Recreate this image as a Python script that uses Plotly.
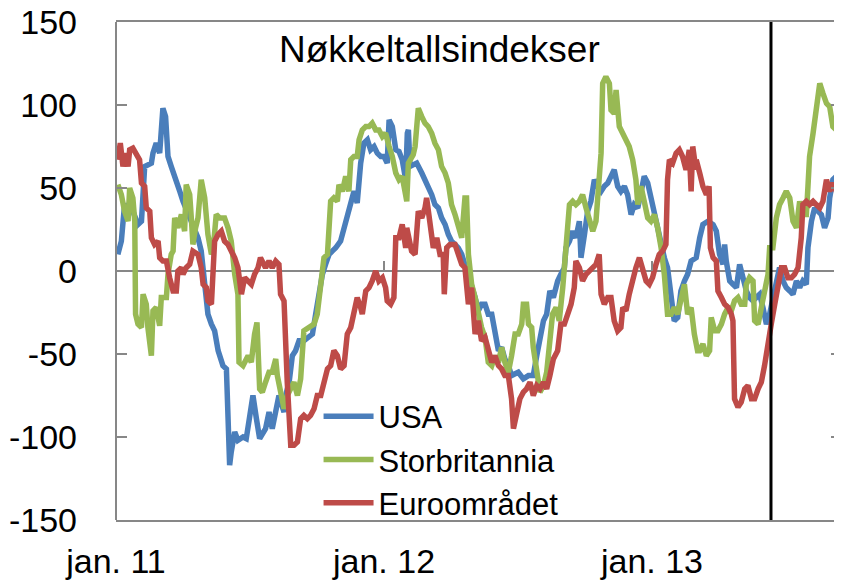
import plotly.graph_objects as go

# Years since jan. 2011 (decimal), index value
usa = [
    (0.007, 10), (0.020, 18), (0.032, 40), (0.063, 36), (0.082, 28), (0.095, 30), (0.107, 63),
    (0.132, 65), (0.138, 71), (0.150, 77), (0.163, 71), (0.175, 98), (0.185, 93), (0.194, 69),
    (0.206, 63), (0.225, 55), (0.238, 48), (0.250, 42), (0.269, 34), (0.287, 28), (0.306, 20),
    (0.318, 12), (0.331, -6), (0.343, -26), (0.356, -32), (0.368, -36), (0.381, -48), (0.399, -57),
    (0.412, -59), (0.418, -91), (0.424, -117), (0.430, -109), (0.443, -97), (0.455, -102),
    (0.474, -100), (0.486, -101), (0.499, -87), (0.511, -75), (0.524, -89), (0.536, -101),
    (0.558, -95), (0.571, -85), (0.583, -95), (0.596, -83), (0.608, -75), (0.627, -85),
    (0.633, -75), (0.646, -67), (0.658, -51), (0.670, -48), (0.683, -42), (0.701, -42),
    (0.720, -40), (0.733, -38), (0.745, -26), (0.757, -14), (0.770, -2), (0.782, 4), (0.795, 10),
    (0.807, 12), (0.820, 14), (0.838, 18), (0.851, 26), (0.863, 34), (0.876, 40), (0.888, 48),
    (0.900, 41), (0.913, 65), (0.925, 77), (0.938, 79), (0.950, 73), (0.963, 75), (0.975, 71),
    (0.988, 69), (1.000, 69), (1.012, 65), (1.019, 91), (1.031, 87), (1.044, 73), (1.056, 72),
    (1.068, 67), (1.081, 55), (1.087, 83), (1.091, 85), (1.097, 63), (1.122, 65), (1.141, 59),
    (1.153, 55), (1.165, 51), (1.178, 46), (1.190, 40), (1.203, 38), (1.215, 32), (1.228, 28),
    (1.240, 22), (1.252, 18), (1.265, 16), (1.277, 14), (1.290, 10), (1.302, 4), (1.315, -4),
    (1.327, -10), (1.340, -16), (1.352, -24), (1.364, -20), (1.377, -20), (1.389, -26),
    (1.402, -26), (1.414, -36), (1.427, -48), (1.439, -46), (1.451, -53), (1.464, -57),
    (1.476, -63), (1.501, -61), (1.520, -65), (1.539, -63), (1.557, -63), (1.570, -51),
    (1.582, -40), (1.595, -30), (1.607, -26), (1.619, -12), (1.632, -16), (1.648, -6),
    (1.660, -2), (1.673, 2), (1.679, 14), (1.692, 18), (1.704, 24), (1.716, 20), (1.729, 30),
    (1.735, 8), (1.748, 22), (1.760, 36), (1.772, 42), (1.785, 55), (1.797, 51), (1.810, 48),
    (1.822, 51), (1.835, 53), (1.847, 57), (1.859, 61), (1.872, 51), (1.884, 48), (1.897, 51),
    (1.909, 46), (1.922, 34), (1.934, 40), (1.947, 38), (1.959, 46), (1.971, 57), (1.984, 53),
    (1.996, 44), (2.009, 36), (2.021, 26), (2.034, 14), (2.046, 8), (2.058, 2), (2.071, -14),
    (2.083, -30), (2.096, -28), (2.108, -12), (2.121, -6), (2.133, -2), (2.146, 6), (2.165, 8),
    (2.178, 20), (2.190, 28), (2.209, 30), (2.228, 28), (2.240, 24), (2.252, 10), (2.265, 4),
    (2.271, 16), (2.277, 6), (2.290, -6), (2.302, -8), (2.315, -10), (2.327, 4), (2.340, -6),
    (2.352, -12), (2.364, -16), (2.377, -18), (2.389, -16), (2.402, -14), (2.414, -22),
    (2.427, -32), (2.439, -26), (2.451, -16), (2.464, -8), (2.476, 2), (2.489, -6), (2.501, -10),
    (2.514, -12), (2.526, -14), (2.539, -6), (2.551, -10), (2.563, -6), (2.576, -8), (2.582, 14),
    (2.595, 30), (2.607, 38), (2.619, 36), (2.632, 34), (2.644, 26), (2.657, 32), (2.663, 44),
    (2.675, 55), (2.688, 57), (2.700, 55), (2.713, 53),
]

storbritannia = [
    (0.007, 52), (0.020, 46), (0.032, 36), (0.045, 30), (0.051, 50), (0.063, 44), (0.070, 30),
    (0.073, -26), (0.082, -32), (0.095, -34), (0.101, -14), (0.113, -20), (0.119, -34),
    (0.132, -51), (0.138, -24), (0.150, -22), (0.163, -33), (0.169, -16), (0.188, -16),
    (0.194, -2), (0.206, 10), (0.213, 12), (0.219, 32), (0.231, 26), (0.244, 34), (0.256, 24),
    (0.262, 52), (0.275, 46), (0.281, 32), (0.287, 16), (0.297, 26), (0.306, 32), (0.318, 55),
    (0.331, 44), (0.343, 22), (0.356, 10), (0.362, 12), (0.374, 34), (0.387, 32), (0.405, 32),
    (0.418, 26), (0.430, 18), (0.443, -2), (0.455, -14), (0.459, -55), (0.474, -57),
    (0.493, -51), (0.505, -55), (0.517, -38), (0.526, -31), (0.536, -71), (0.546, -73),
    (0.558, -67), (0.571, -61), (0.583, -61), (0.596, -53), (0.602, -63), (0.614, -71),
    (0.627, -83), (0.639, -75), (0.652, -71), (0.664, -67), (0.677, -75), (0.689, -65),
    (0.701, -36), (0.720, -34), (0.739, -32), (0.751, -26), (0.764, -8), (0.776, 8), (0.789, 10),
    (0.795, 26), (0.801, 42), (0.813, 44), (0.826, 42), (0.832, 52), (0.845, 48), (0.857, 57),
    (0.869, 48), (0.876, 67), (0.888, 69), (0.900, 69), (0.907, 79), (0.919, 85), (0.932, 87),
    (0.944, 87), (0.956, 89), (0.969, 85), (0.981, 85), (0.994, 81), (1.006, 83), (1.019, 75),
    (1.031, 69), (1.044, 59), (1.056, 55), (1.068, 57), (1.081, 44), (1.085, 42), (1.091, 65),
    (1.109, 70), (1.116, 75), (1.122, 85), (1.128, 98), (1.141, 93), (1.153, 89), (1.165, 87),
    (1.178, 83), (1.190, 77), (1.203, 73), (1.215, 63), (1.228, 59), (1.240, 53), (1.252, 40),
    (1.265, 34), (1.277, 28), (1.290, 20), (1.302, 44), (1.308, 44), (1.315, 10), (1.327, -8),
    (1.340, -16), (1.352, -26), (1.364, -34), (1.377, -40), (1.389, -55), (1.402, -57),
    (1.414, -51), (1.427, -55), (1.439, -46), (1.451, -55), (1.464, -61), (1.476, -51),
    (1.489, -38), (1.501, -38), (1.514, -32), (1.520, -20), (1.532, -20), (1.539, -32),
    (1.551, -34), (1.557, -46), (1.570, -63), (1.582, -73), (1.595, -69), (1.607, -61),
    (1.619, -42), (1.629, -26), (1.642, -22), (1.654, -30), (1.667, -10), (1.679, 14),
    (1.692, 40), (1.704, 42), (1.716, 40), (1.729, 42), (1.741, 46), (1.754, 38), (1.766, 32),
    (1.779, 24), (1.791, 30), (1.803, 51), (1.810, 71), (1.816, 113), (1.828, 117), (1.841, 113),
    (1.847, 97), (1.859, 95), (1.866, 109), (1.878, 87), (1.891, 83), (1.903, 79), (1.915, 75),
    (1.928, 67), (1.940, 55), (1.947, 40), (1.959, 51), (1.971, 42), (1.984, 32), (1.996, 30),
    (2.009, 34), (2.021, 26), (2.034, 14), (2.046, -2), (2.058, -26), (2.071, -26), (2.083, -22),
    (2.096, -26), (2.108, -18), (2.121, -8), (2.133, -26), (2.146, -22), (2.158, -38),
    (2.170, -48), (2.178, -48), (2.190, -44), (2.203, -51), (2.215, -48), (2.221, -28),
    (2.234, -36), (2.246, -36), (2.259, -32), (2.271, -26), (2.284, -22), (2.296, -24),
    (2.308, -18), (2.321, -16), (2.333, -20), (2.346, -20), (2.352, -8), (2.364, -4), (2.377, -6),
    (2.383, -30), (2.396, -32), (2.408, -22), (2.420, -10), (2.433, -2), (2.439, 14), (2.451, 14),
    (2.464, 32), (2.476, 40), (2.489, 44), (2.501, 48), (2.514, 44), (2.526, 30), (2.539, 26),
    (2.551, 42), (2.563, 34), (2.576, 34), (2.582, 51), (2.588, 69), (2.601, 83), (2.613, 101),
    (2.626, 113), (2.638, 107), (2.651, 101), (2.663, 99), (2.675, 87), (2.688, 85), (2.700, 79),
    (2.713, 81),
]

euroomradet = [
    (0.007, 67), (0.016, 77), (0.026, 63), (0.036, 71), (0.045, 63), (0.051, 73), (0.063, 74),
    (0.076, 71), (0.088, 67), (0.095, 53), (0.107, 51), (0.113, 38), (0.126, 36), (0.132, 20),
    (0.144, 16), (0.157, 18), (0.163, 8), (0.175, 6), (0.188, 6), (0.200, -4), (0.213, -12),
    (0.225, -12), (0.231, 0), (0.244, 2), (0.250, -2), (0.262, 2), (0.275, 4), (0.287, 12),
    (0.306, 10), (0.318, 2), (0.325, -8), (0.337, -10), (0.343, -18), (0.356, -20), (0.362, 2),
    (0.368, 18), (0.381, 22), (0.393, 24), (0.405, 18), (0.418, 16), (0.430, 12), (0.443, 8),
    (0.455, 2), (0.468, -14), (0.480, -4), (0.493, -6), (0.505, -8), (0.517, -2), (0.530, 2),
    (0.539, 8), (0.558, 2), (0.571, 6), (0.583, 2), (0.596, 6), (0.608, 4), (0.614, -14),
    (0.627, -18), (0.639, -67), (0.652, -105), (0.664, -105), (0.677, -103), (0.689, -89),
    (0.701, -87), (0.714, -89), (0.726, -87), (0.739, -83), (0.751, -75), (0.764, -75),
    (0.776, -67), (0.789, -59), (0.801, -57), (0.813, -48), (0.826, -51), (0.838, -59),
    (0.851, -57), (0.863, -38), (0.876, -34), (0.888, -26), (0.900, -16), (0.913, -22),
    (0.919, -26), (0.932, -12), (0.944, -10), (0.956, -6), (0.969, 0), (0.981, -6), (0.994, -4),
    (1.006, -10), (1.012, -18), (1.025, -20), (1.037, -16), (1.044, 20), (1.056, 20), (1.068, 28),
    (1.081, 14), (1.085, 26), (1.091, 22), (1.103, 12), (1.116, 10), (1.128, 36), (1.141, 32),
    (1.153, 38), (1.159, 44), (1.172, 26), (1.184, 14), (1.197, 20), (1.209, 10), (1.221, 10),
    (1.225, -14), (1.234, 14), (1.246, 16), (1.265, 16), (1.277, 10), (1.290, 4), (1.302, 2),
    (1.315, -20), (1.327, -10), (1.340, -38), (1.352, -30), (1.364, -42), (1.377, -40),
    (1.389, -48), (1.402, -55), (1.414, -51), (1.427, -57), (1.439, -59), (1.451, -63),
    (1.464, -63), (1.476, -77), (1.483, -95), (1.495, -85), (1.507, -77), (1.520, -73),
    (1.532, -71), (1.545, -67), (1.557, -75), (1.570, -69), (1.582, -71), (1.595, -67),
    (1.607, -71), (1.619, -63), (1.632, -53), (1.648, -48), (1.660, -32), (1.673, -32),
    (1.685, -26), (1.698, -20), (1.710, -10), (1.716, 6), (1.729, 2), (1.741, -6), (1.754, -2),
    (1.766, 0), (1.779, 2), (1.791, 4), (1.803, 10), (1.810, -14), (1.822, -20), (1.835, -16),
    (1.847, -16), (1.859, -30), (1.872, -36), (1.884, -34), (1.891, -22), (1.903, -24),
    (1.915, -14), (1.928, -4), (1.940, 2), (1.953, 8), (1.965, 0), (1.978, -6), (1.990, -8),
    (2.002, -4), (2.015, 4), (2.027, 10), (2.040, 12), (2.052, 16), (2.058, 55), (2.065, 67),
    (2.077, 65), (2.090, 71), (2.102, 73), (2.114, 69), (2.127, 61), (2.139, 73), (2.146, 48),
    (2.152, 75), (2.164, 61), (2.165, 67), (2.178, 59), (2.190, 51), (2.203, 46), (2.213, 51),
    (2.218, 14), (2.228, 8), (2.240, 6), (2.246, -12), (2.259, -16), (2.271, -20), (2.284, -22),
    (2.296, -26), (2.302, -30), (2.308, -77), (2.321, -82), (2.333, -79), (2.346, -71),
    (2.358, -69), (2.371, -77), (2.383, -77), (2.396, -71), (2.408, -67), (2.420, -57),
    (2.433, -46), (2.445, -32), (2.458, -20), (2.470, -8), (2.483, 2), (2.495, 2), (2.507, -4),
    (2.520, -4), (2.532, -2), (2.545, 2), (2.557, 20), (2.563, 40), (2.576, 42), (2.588, 40),
    (2.601, 42), (2.613, 40), (2.626, 38), (2.638, 42), (2.651, 55), (2.663, 48), (2.675, 53),
    (2.688, 48), (2.700, 51), (2.713, 51),
]

START_YEAR = 2011
year_ticks = [2011, 2012, 2013]
year_labels = ["jan. 11", "jan. 12", "jan. 13"]
y_ticks = [-150, -100, -50, 0, 50, 100, 150]
y_labels = ["-150", "-100", "-50", "0", "50", "100", "150"]
marker_line_year = 2013.444  # vertical black line
x_end_year = 2013.709

series = [
    ("USA", usa, "#4A7EBB"),
    ("Storbritannia", storbritannia, "#98B954"),
    ("Euroområdet", euroomradet, "#BE4B48"),
]

FONT = "Liberation Sans, Arial, sans-serif"
AXIS_GREY = "#878787"

fig = go.Figure()
for name, pts, color in series:
    fig.add_trace(
        go.Scatter(
            x=[START_YEAR + t for t, _ in pts],
            y=[v for _, v in pts],
            mode="lines",
            name=name,
            line=dict(color=color, width=5.5),
        )
    )

shapes = [
    # left border of the plot area
    dict(type="line", xref="paper", yref="paper", x0=0, x1=0, y0=0, y1=1,
         line=dict(color=AXIS_GREY, width=2)),
    # vertical marker line
    dict(type="line", xref="x", yref="paper", x0=marker_line_year, x1=marker_line_year,
         y0=0, y1=1, line=dict(color="black", width=3)),
]
# small tick marks on the zero line
for yr in year_ticks[1:]:
    shapes.append(dict(type="line", xref="x", yref="y", x0=yr, x1=yr, y0=0, y1=6,
                       line=dict(color=AXIS_GREY, width=2)))

# the page body adds an 8 px offset, so margins are trimmed to keep the plot in place
fig.update_layout(
    width=842,
    height=586,
    margin=dict(l=108, r=8, t=14, b=74),
    paper_bgcolor="white",
    plot_bgcolor="white",
    font=dict(family=FONT, color="black", size=31),
    showlegend=True,
    legend=dict(
        x=0.279, y=0.262, xanchor="left", yanchor="top",
        bgcolor="rgba(0,0,0,0)", font=dict(size=31), itemwidth=50,
        tracegroupgap=0,
    ),
    shapes=shapes,
    annotations=[
        dict(text="Nøkkeltallsindekser", xref="paper", yref="paper", x=0.446, y=0.944,
             xanchor="center", yanchor="middle", showarrow=False,
             font=dict(size=37, family=FONT, color="black")),
    ],
)

fig.update_xaxes(
    range=[START_YEAR, x_end_year],
    tickmode="array",
    tickvals=year_ticks,
    ticktext=year_labels,
    ticks="",
    showgrid=False,
    zeroline=False,
    showline=True,
    mirror=True,
    linecolor=AXIS_GREY,
    linewidth=2,
    tickfont=dict(size=34),
    ticklabelstandoff=10,
    ticklabeloverflow="allow",
    automargin=False,
)

fig.update_yaxes(
    range=[-150, 150],
    tickmode="array",
    tickvals=y_ticks,
    ticktext=y_labels,
    ticks="inside",
    ticklen=11,
    tickwidth=2,
    tickcolor=AXIS_GREY,
    mirror="ticks",
    showline=False,
    showgrid=False,
    zeroline=True,
    zerolinecolor=AXIS_GREY,
    zerolinewidth=2,
    tickfont=dict(size=34),
    ticklabelstandoff=38,
    ticklabeloverflow="allow",
    automargin=False,
)

fig.write_html("out.html")
